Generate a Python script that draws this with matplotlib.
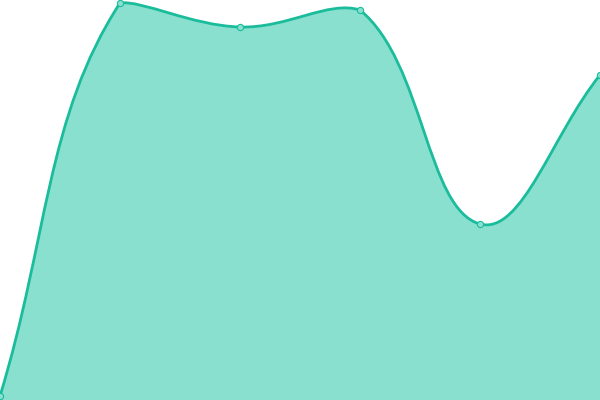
import numpy as np
import matplotlib as mpl
mpl.use('Agg')
import matplotlib.pyplot as plt
from matplotlib.path import Path
from matplotlib.patches import PathPatch

# values (axis spans 0..400, one unit ~ one pixel)
categories = ['A', 'B', 'C', 'D', 'E', 'F']
values = [4, 397, 373, 390, 176, 325]

LINE = '#1abc9c'
FILL = '#8ae0cf'
TENSION = 0.4
XMAX, YMAX = 600, 400


def smooth_path(xs, ys, t=TENSION):
    """Cardinal-style bezier, control points kept inside the plot box."""
    n = len(xs)
    verts = [(xs[0], ys[0])]
    codes = [Path.MOVETO]
    cps = []
    for i in range(n):
        px, py = (xs[i - 1], ys[i - 1]) if i > 0 else (xs[i], ys[i])
        nx, ny = (xs[i + 1], ys[i + 1]) if i < n - 1 else (xs[i], ys[i])
        vx, vy = nx - px, ny - py
        d0 = np.hypot(xs[i] - px, ys[i] - py)
        d1 = np.hypot(nx - xs[i], ny - ys[i])
        tot = d0 + d1
        fa = t * d0 / tot if tot else 0
        fb = t * d1 / tot if tot else 0
        cin = (xs[i] - vx * fa, ys[i] - vy * fa)
        cout = (xs[i] + vx * fb, ys[i] + vy * fb)
        cin = (min(max(cin[0], 0), XMAX), min(max(cin[1], 0), YMAX))
        cout = (min(max(cout[0], 0), XMAX), min(max(cout[1], 0), YMAX))
        cps.append((cin, cout))
    for i in range(n - 1):
        verts += [cps[i][1], cps[i + 1][0], (xs[i + 1], ys[i + 1])]
        codes += [Path.CURVE4] * 3
    return verts, codes


fig = plt.figure(figsize=(6, 4), dpi=100)
ax = fig.add_axes([0, 0, 1, 1])
ax.set_xlim(0, XMAX)
ax.set_ylim(0, YMAX)
ax.axis('off')

xs = [i * 120 for i in range(len(categories))]
verts, codes = smooth_path(xs, values)

fill_verts = verts + [(xs[-1], 0), (xs[0], 0), verts[0]]
fill_codes = codes + [Path.LINETO, Path.LINETO, Path.CLOSEPOLY]
ax.add_patch(PathPatch(Path(fill_verts, fill_codes), facecolor=FILL,
                       edgecolor='none', zorder=1))
ax.add_patch(PathPatch(Path(verts, codes), facecolor='none', edgecolor=LINE,
                       linewidth=2.0, zorder=2, clip_on=False))
ax.plot(xs, values, 'o', markersize=4.5, markerfacecolor=FILL,
        markeredgecolor=LINE, markeredgewidth=0.8, zorder=3, clip_on=False)

fig.savefig('out.png', dpi=100)
